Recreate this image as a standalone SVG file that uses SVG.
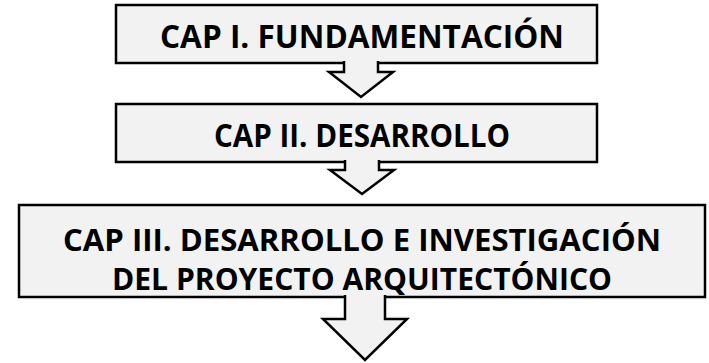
<svg xmlns="http://www.w3.org/2000/svg" width="709" height="363" viewBox="0 0 709 363">
<style>
.box{fill:#f2f2f2;stroke:#000;stroke-width:2.5}
.arr{fill:#f2f2f2;stroke:#000;stroke-width:2.5;stroke-linejoin:miter}
.t{font-family:"Open Sans","Noto Sans",sans-serif;font-weight:bold;font-size:33px;fill:#000;text-anchor:middle}
.t3{font-size:31px}
</style>
<rect width="709" height="363" fill="#fff"/>
<g id="n1">
<rect class="box" x="116" y="5" width="481" height="58"/>
<text class="t" x="362" y="48" textLength="404" lengthAdjust="spacingAndGlyphs">CAP I. FUNDAMENTACIÓN</text>
</g>
<g id="n2">
<rect class="box" x="116" y="104" width="481" height="58"/>
<text class="t" x="362" y="147" textLength="296" lengthAdjust="spacingAndGlyphs">CAP II. DESARROLLO</text>
</g>
<g id="n3">
<rect class="box" x="19" y="205" width="686" height="92"/>
<text class="t t3" x="362" y="251" textLength="598" lengthAdjust="spacingAndGlyphs">CAP III. DESARROLLO E INVESTIGACIÓN</text>
<text class="t t3" x="362" y="290" textLength="500" lengthAdjust="spacingAndGlyphs">DEL PROYECTO ARQUITECTÓNICO</text>
</g>
<g id="connectors">
<path class="arr" d="M344,61 V72 H329 L361,97 L393,72 H378 V61"/>
<path class="arr" d="M345,160 V170 H330 L362,194 L394,170 H379 V160"/>
<path class="arr" d="M345,295 V319 H323 L365,360 L407,319 H385 V295"/>
</g>
</svg>
